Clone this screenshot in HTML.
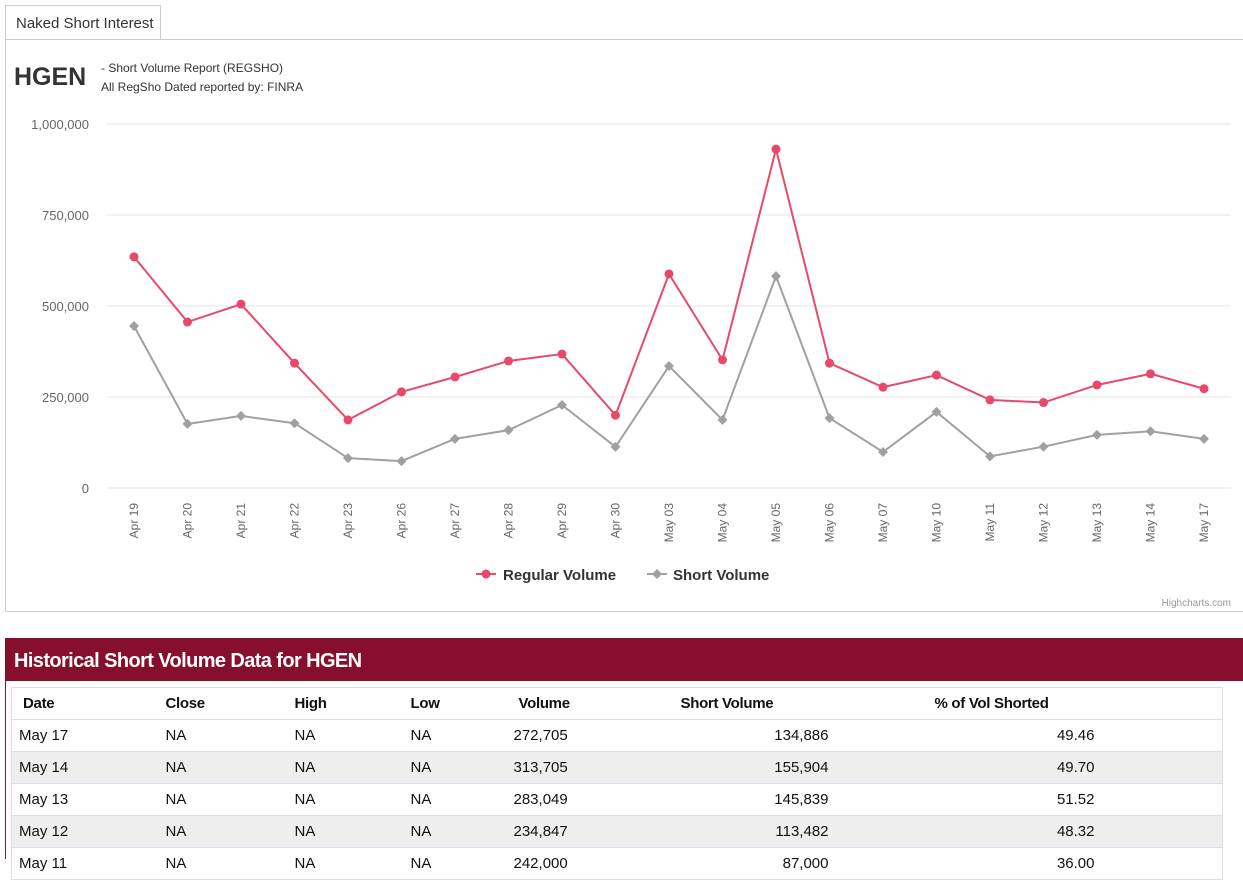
<!DOCTYPE html>
<html><head><meta charset="utf-8"><style>
body{margin:0;width:1243px;height:859px;overflow:hidden;background:#fff;font-family:"Liberation Sans",sans-serif;position:relative}
.tab{position:absolute;left:5px;top:5px;width:156px;height:34px;border:1px solid #ccc;border-bottom:none;background:#fff;font-size:15px;color:#333;line-height:36px;padding-left:10px;box-sizing:border-box;z-index:2}
.box{position:absolute;left:5px;top:39px;width:1245px;height:573px;border:1px solid #ccc;box-sizing:border-box}
.hdr{position:absolute;left:5px;top:638px;width:1238px;height:43px;background:#870f2e;color:#fff;font-weight:bold;font-size:20px;line-height:46px;padding-left:9px;box-sizing:border-box;letter-spacing:-0.6px}
.side{position:absolute;left:5px;top:681px;width:1238px;height:178px;border-left:1px solid #870f2e}
table{position:absolute;left:11px;top:687px;width:1212px;border-collapse:collapse;border:1px solid #dde;font-size:15px;color:#111;table-layout:fixed}
td,th{height:31px;border-bottom:1px solid #dde;padding:0;text-align:left;white-space:nowrap}
th{font-weight:bold;letter-spacing:-0.3px}
tr.g td{background:#eee}
</style></head><body>
<div class="tab">Naked Short Interest</div>
<div class="box"></div>
<svg id="chart" width="1243" height="615" style="position:absolute;left:0;top:0"></svg>
<div class="hdr">Historical Short Volume Data for HGEN</div>
<div class="side"></div>
<table>
<colgroup><col style="width:154px"><col style="width:129px"><col style="width:116px"><col style="width:103px"><col style="width:150px"><col style="width:165px"><col style="width:266px"><col></colgroup>
<tr><th style="padding-left:11px">Date</th><th>Close</th><th>High</th><th>Low</th><th style="padding-left:5px">Volume</th><th style="padding-left:17px">Short Volume</th><th style="padding-left:106px">% of Vol Shorted</th><th></th></tr>
<tr><td style="padding-left:7px">May 17</td><td>NA</td><td>NA</td><td>NA</td><td>272,705</td><td style="text-align:right">134,886</td><td style="text-align:right">49.46</td><td></td></tr>
<tr class="g"><td style="padding-left:7px">May 14</td><td>NA</td><td>NA</td><td>NA</td><td>313,705</td><td style="text-align:right">155,904</td><td style="text-align:right">49.70</td><td></td></tr>
<tr><td style="padding-left:7px">May 13</td><td>NA</td><td>NA</td><td>NA</td><td>283,049</td><td style="text-align:right">145,839</td><td style="text-align:right">51.52</td><td></td></tr>
<tr class="g"><td style="padding-left:7px">May 12</td><td>NA</td><td>NA</td><td>NA</td><td>234,847</td><td style="text-align:right">113,482</td><td style="text-align:right">48.32</td><td></td></tr>
<tr><td style="padding-left:7px">May 11</td><td>NA</td><td>NA</td><td>NA</td><td>242,000</td><td style="text-align:right">87,000</td><td style="text-align:right">36.00</td><td></td></tr>
</table>
<script>
const categories=["Apr 19","Apr 20","Apr 21","Apr 22","Apr 23","Apr 26","Apr 27","Apr 28","Apr 29","Apr 30","May 03","May 04","May 05","May 06","May 07","May 10","May 11","May 12","May 13","May 14","May 17"];
const regularVolume=[635000,456000,505000,343000,187000,264000,305000,349000,368000,200000,588000,352000,931000,343000,277000,310000,242000,234847,283049,313705,272705];
const shortVolume=[445000,176000,198000,178000,82000,74000,135000,159000,228000,113000,335000,187000,582000,192000,99000,209000,87000,113482,145839,155904,134886];
const yTicks=[0,250000,500000,750000,1000000];
const yTickLabels=["0","250,000","500,000","750,000","1,000,000"];
const svg=document.getElementById('chart');const NS='http://www.w3.org/2000/svg';
function mk(t,a,txt){const e=document.createElementNS(NS,t);for(const k in a)e.setAttribute(k,a[k]);if(txt!==undefined)e.textContent=txt;svg.appendChild(e);return e;}
const x=i=>134+i*(1204-134)/(categories.length-1);
const y=v=>488-v/1000000*364;
let e;
e=mk('text',{x:14,y:85,'font-size':25,'font-weight':'bold',fill:'#333'},'HGEN');

e=mk('text',{x:101,y:72,'font-size':12,fill:'#333'},'- Short Volume Report  (REGSHO)');

e=mk('text',{x:101,y:91,'font-size':12,fill:'#333'},'All RegSho Dated reported by: FINRA');

yTicks.forEach((v,i)=>{
 e=mk('line',{x1:107,x2:1231,y1:y(v),y2:y(v),stroke:'#e6e6e6'});
 
 e=mk('text',{x:89,y:y(v)+5,'text-anchor':'end','font-size':13,fill:'#666'},yTickLabels[i]);
 
});
categories.forEach((c,i)=>{
 e=mk('text',{x:0,y:0,'text-anchor':'end','font-size':12,fill:'#666',transform:`translate(${x(i)+4},503) rotate(-90)`},c);
 
});
function series(vals,color,name,diamond){
 e=mk('polyline',{points:vals.map((v,i)=>x(i)+','+y(v)).join(' '),fill:'none',stroke:color,'stroke-width':2});
 
 vals.forEach((v,i)=>{
  if(diamond) e=mk('polygon',{points:`${x(i)},${y(v)-5} ${x(i)+5},${y(v)} ${x(i)},${y(v)+5} ${x(i)-5},${y(v)}`,fill:color});
  else e=mk('circle',{cx:x(i),cy:y(v),r:4.5,fill:color});
  
 });
}
series(shortVolume,'#a0a0a0','short-volume',true);
series(regularVolume,'#e8496b','regular-volume',false);
e=mk('line',{x1:476,x2:496,y1:574,y2:574,stroke:'#e8496b','stroke-width':2});

e=mk('circle',{cx:486,cy:574,r:4.5,fill:'#e8496b'});

e=mk('text',{x:503,y:580,'font-size':15,'font-weight':'bold',fill:'#333'},'Regular Volume');

e=mk('line',{x1:647,x2:667,y1:574,y2:574,stroke:'#a0a0a0','stroke-width':2});

e=mk('polygon',{points:'657,569 662,574 657,579 652,574',fill:'#a0a0a0'});

e=mk('text',{x:673,y:580,'font-size':15,'font-weight':'bold',fill:'#333'},'Short Volume');

e=mk('text',{x:1231,y:606,'text-anchor':'end','font-size':10,fill:'#999'},'Highcharts.com');

</script>
</body></html>
